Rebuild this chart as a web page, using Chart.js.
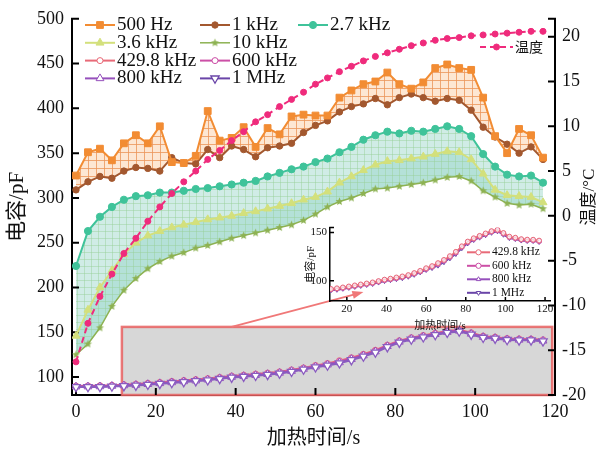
<!DOCTYPE html>
<html>
<head>
<meta charset="utf-8">
<script src="https://cdn.jsdelivr.net/npm/chart.js@4.4.1/dist/chart.umd.min.js"></script>
<style>
  body { margin: 0; background: #fff; }
  .chart_wrap { position: relative; width: 599px; height: 451px; }
  #chartInset { position: absolute; left: 300px; top: 218px; }
</style>
</head>
<body>
<div class="chart_wrap">
  <canvas id="chartMain" width="599" height="451"></canvas>
  <canvas id="chartInset" width="262" height="115"></canvas>
</div>
<script>
  // 데이터
  var times = [0, 3, 6, 9, 12, 15, 18, 21, 24, 27, 30, 33, 36, 39, 42, 45, 48, 51, 54, 57,
    60, 63, 66, 69, 72, 75, 78, 81, 84, 87, 90, 93, 96, 99, 102, 105, 108, 111, 114, 117];
  var cap500Hz = [325, 351, 355, 342, 361, 370, 361, 380, 340, 339, 347, 397, 364, 367, 379, 357, 378, 371, 391, 393,
    392, 392, 412, 420, 427, 430, 440, 427, 422, 429, 445, 449, 445, 443, 412, 369, 350, 377, 370, 345];
  var cap1kHz = [309, 318, 324, 322, 330, 334, 333, 330, 345, 339, 338, 354, 345, 358, 354, 346, 356, 358, 361, 373,
    381, 386, 396, 402, 405, 411, 404, 412, 416, 412, 408, 411, 409, 398, 379, 368, 360, 350, 357, 343];
  var cap2k7 = [224, 263, 279, 290, 298, 302, 303, 306, 306, 308, 310, 311, 313, 315, 317, 319, 324, 328, 332, 335,
    340, 344, 351, 357, 365, 370, 374, 372, 375, 374, 377, 380, 377, 369, 349, 335, 326, 324, 325, 317];
  var cap3k6 = [146, 175, 200, 219, 237, 250, 258, 263, 267, 270, 273, 276, 278, 280, 283, 285, 288, 291, 294, 298,
    301, 307, 317, 324, 331, 337, 341, 342, 344, 346, 349, 352, 351, 343, 327, 309, 303, 302, 301, 295];
  var cap10k = [125, 137, 155, 179, 197, 210, 221, 229, 235, 239, 244, 247, 251, 255, 258, 261, 264, 267, 270, 275,
    282, 290, 296, 300, 305, 310, 311, 313, 315, 317, 320, 323, 324, 319, 308, 301, 294, 292, 293, 288];
  var cap429k = [90, 90.2, 90.4, 90.9, 91.5, 92.2, 93.1, 94.1, 95.2, 96.2, 97.2, 98.3, 99.7, 101.2, 102.2, 103.4, 104.5, 105.9, 108, 110.3,
    113, 115.2, 118.3, 121.6, 125.5, 130, 135.7, 140.6, 144, 146.5, 149, 151.4, 152.8, 149.5, 145.7, 144.6, 143.1, 142.6, 142.5, 141.6];
  var cap600k = [89.6, 89.8, 90, 90.4, 91, 91.6, 92.5, 93.5, 94.6, 95.6, 96.6, 97.6, 99.1, 100.6, 101.5, 102.7, 103.8, 105.2, 107.3, 109.6,
    112.2, 114.4, 117.4, 120.8, 124.7, 129.2, 135, 140, 143.3, 145.8, 148.4, 150.8, 152.1, 148.8, 145.1, 144, 142.5, 142, 141.9, 141];
  var cap800k = [89.3, 89.4, 89.5, 90, 90.6, 91.1, 92, 93, 94, 95.1, 96, 97.1, 98.6, 100, 101, 102.1, 103.2, 104.6, 106.7, 109,
    111.6, 113.8, 116.3, 120, 124, 128.5, 134.4, 139.3, 142.7, 145.2, 147.8, 150.2, 151.6, 148.2, 144.6, 143.5, 142, 141.5, 141.4, 140.5];
  var cap1M = [89, 89, 89, 89.5, 90, 90.5, 91.5, 92.5, 93.5, 94.5, 95.5, 96.5, 98, 99.5, 100.5, 101.5, 102.5, 104, 106, 108.5,
    111, 113, 115.5, 119, 123, 127.5, 133.5, 138.5, 142, 144.5, 147, 149.5, 151, 147.5, 144, 143, 141.5, 141, 141, 140];
  var tempC = [-16.3, -12.0, -9.0, -6.5, -4.2, -2.5, -0.6, 1.0, 2.5, 3.8, 5.0, 6.3, 7.3, 8.4, 9.4, 10.5, 11.3, 12.2, 13.0, 13.8,
    14.7, 15.4, 16.1, 16.7, 17.3, 17.8, 18.2, 18.6, 19.0, 19.3, 19.6, 19.8, 19.9, 20.1, 20.2, 20.3, 20.4, 20.5, 20.6, 20.6];

  var xTicks = [0, 20, 40, 60, 80, 100, 120];
  var capTicks = [100, 150, 200, 250, 300, 350, 400, 450, 500];
  var tempTicks = [-20, -15, -10, -5, 0, 5, 10, 15, 20];
  var insetXTicks = [20, 40, 60, 80, 100, 120];
  var insetCapTicks = [100, 150];

  // 확대 영역 표시 (축 값 기준)
  var zoomBox = { x0: 11.5, x1: 119.3, y0: 80, y1: 156 };
  var arrowFrom = [39, 156];
  var arrowTo = [72, 195];

  var serif = "'Liberation Serif', 'Noto Sans CJK SC', serif";
  Chart.defaults.font.family = serif;
  Chart.defaults.color = '#111';

  var mainCtx = document.getElementById('chartMain').getContext('2d');

  // 패턴 / 마커
  function makeHatch(base, line, step) {
    var c = document.createElement('canvas');
    c.width = step; c.height = step;
    var g = c.getContext('2d');
    g.fillStyle = base; g.fillRect(0, 0, step, step);
    g.fillStyle = line; g.fillRect(0, 0, step, 1); g.fillRect(0, 0, 1, step);
    return mainCtx.createPattern(c, 'repeat');
  }
  function starImg(color, r) {
    var s = Math.ceil(r * 2 + 2);
    var c = document.createElement('canvas');
    c.width = s; c.height = s;
    var g = c.getContext('2d');
    g.fillStyle = color;
    g.beginPath();
    for (var k = 0; k < 10; k++) {
      var rad = k % 2 ? r * 0.45 : r;
      var a = -Math.PI / 2 + k * Math.PI / 5;
      g.lineTo(s / 2 + rad * Math.cos(a), s / 2 + rad * Math.sin(a));
    }
    g.closePath(); g.fill();
    return c;
  }
  function pts(vals) {
    return times.map(function (t, i) { return { x: t, y: vals[i] }; });
  }
  function series(label, vals, color, style, extra) {
    return Object.assign({
      label: label, data: pts(vals), borderColor: color, backgroundColor: color,
      pointBackgroundColor: color, pointBorderColor: color, borderWidth: 2,
      pointStyle: style, pointRadius: 3.5, pointBorderWidth: 1, fill: false, tension: 0
    }, extra || {});
  }

  var cOrange = '#f28c33', cBrown = '#a3582f', cGreen = '#3fc39a', cYellow = '#d3e07c', cOlive = '#8db252';
  var cPink = '#ef2b7c', c429 = '#e86a78', c600 = '#cc4fa6', c800 = '#9650bc', c1M = '#6a45a8';

  var hatchOrange = makeHatch('#fde7d3', 'rgba(235,150,90,0.8)', 8);
  var hatchGreen = makeHatch('rgba(150,212,200,0.45)', 'rgba(150,208,150,0.45)', 7);

  var mainDatasets = [
    series('500 Hz', cap500Hz, cOrange, 'rect', { pointRadius: 4.8 }),
    series('1 kHz', cap1kHz, cBrown, 'circle', { pointRadius: 3.2, fill: '-1', backgroundColor: hatchOrange }),
    series('2.7 kHz', cap2k7, cGreen, 'circle', { pointRadius: 3.6, fill: '+2', backgroundColor: hatchGreen }),
    series('3.6 kHz', cap3k6, cYellow, 'triangle', { pointRadius: 4.6, fill: '+1', backgroundColor: 'rgba(90,188,170,0.3)' }),
    series('10 kHz', cap10k, cOlive, starImg(cOlive, 4.2), { borderWidth: 1.5 }),
    series('429.8 kHz', cap429k, c429, 'circle', { pointBackgroundColor: '#fff', pointRadius: 3, order: 4 }),
    series('600 kHz', cap600k, c600, 'circle', { pointBackgroundColor: '#fff', pointRadius: 3, order: 3 }),
    series('800 kHz', cap800k, c800, 'triangle', { pointBackgroundColor: '#fff', pointRadius: 4.5, order: 2 }),
    series('1 MHz', cap1M, '#8a5cc0', 'triangle', { pointBackgroundColor: '#fff', pointRadius: 4.8, pointRotation: 180, pointBorderWidth: 1.3, order: 1 }),
    series('温度', tempC, cPink, 'circle', { pointRadius: 3, borderDash: [6, 4], yAxisID: 'y2', order: -1 })
  ];
  // 범례 색상 (1 MHz)
  var legendColor = { 8: c1M };

  // 함수
  function drawInnerTicks(chart, len, lw) {
    var ctx = chart.ctx, a = chart.chartArea;
    ctx.save();
    ctx.strokeStyle = '#000'; ctx.lineWidth = lw;
    ctx.beginPath();
    Object.keys(chart.scales).forEach(function (k) {
      var s = chart.scales[k];
      s.ticks.forEach(function (t) {
        var p = s.getPixelForValue(t.value);
        if (s.isHorizontal()) { ctx.moveTo(p, a.bottom); ctx.lineTo(p, a.bottom - len); }
        else if (s.position === 'left') { ctx.moveTo(a.left, p); ctx.lineTo(a.left + len, p); }
        else { ctx.moveTo(a.right, p); ctx.lineTo(a.right - len, p); }
      });
      if (!s.isHorizontal()) {
        var e = s.position === 'left' ? a.left : a.right;
        var d = s.position === 'left' ? 1 : -1;
        ctx.moveTo(e - d * lw / 2, a.top); ctx.lineTo(e + d * len, a.top);
      }
    });
    ctx.stroke();
    ctx.restore();
  }
  function legendMarker(ctx, ds, color, x, y) {
    var style = ds.pointStyle;
    if (style instanceof HTMLCanvasElement) {
      ctx.drawImage(style, x - style.width / 2, y - style.height / 2);
      return;
    }
    var r = ds.pointRadius;
    ctx.beginPath();
    if (style === 'rect') {
      var s = r * Math.SQRT1_2;
      ctx.rect(x - s, y - s, 2 * s, 2 * s);
    } else if (style === 'triangle') {
      var d = ds.pointRotation === 180 ? -1 : 1;
      ctx.moveTo(x, y - d * r);
      ctx.lineTo(x + r * 0.866, y + d * r * 0.5);
      ctx.lineTo(x - r * 0.866, y + d * r * 0.5);
      ctx.closePath();
    } else {
      ctx.arc(x, y, r, 0, Math.PI * 2);
    }
    ctx.fillStyle = ds.pointBackgroundColor === '#fff' ? '#fff' : color;
    ctx.fill();
    ctx.lineWidth = ds.pointBorderWidth;
    ctx.strokeStyle = color;
    ctx.stroke();
  }
  function legendItem(ctx, ds, color, x, y, len, font) {
    ctx.save();
    ctx.strokeStyle = color; ctx.lineWidth = ds.borderWidth;
    ctx.setLineDash(ds.borderDash || []);
    ctx.beginPath(); ctx.moveTo(x, y); ctx.lineTo(x + len, y); ctx.stroke();
    ctx.setLineDash([]);
    legendMarker(ctx, ds, color, x + len / 2, y);
    ctx.fillStyle = '#111'; ctx.font = font;
    ctx.textBaseline = 'middle'; ctx.textAlign = 'left';
    ctx.fillText(ds.label, x + len + 2, y);
    ctx.restore();
  }

  var mainDecor = {
    id: 'mainDecor',
    beforeDatasetsDraw: function (chart) {
      var ctx = chart.ctx, sx = chart.scales.x, sy = chart.scales.y;
      var bx0 = sx.getPixelForValue(zoomBox.x0), bx1 = sx.getPixelForValue(zoomBox.x1);
      var by0 = sy.getPixelForValue(zoomBox.y1), by1 = sy.getPixelForValue(zoomBox.y0);
      ctx.save();
      ctx.fillStyle = '#d7d7d7';
      ctx.fillRect(bx0, by0, bx1 - bx0, by1 - by0);
      ctx.strokeStyle = 'rgba(232,96,96,0.85)'; ctx.lineWidth = 2.5;
      ctx.strokeRect(bx0, by0, bx1 - bx0, by1 - by0);
      // 화살표
      var ax0 = sx.getPixelForValue(arrowFrom[0]), ay0 = sy.getPixelForValue(arrowFrom[1]);
      var ax1 = sx.getPixelForValue(arrowTo[0]), ay1 = sy.getPixelForValue(arrowTo[1]);
      var ang = Math.atan2(ay1 - ay0, ax1 - ax0);
      var cs = Math.cos(ang), sn = Math.sin(ang);
      ctx.strokeStyle = '#f07878'; ctx.fillStyle = '#f07878'; ctx.lineWidth = 1.8;
      ctx.beginPath(); ctx.moveTo(ax0, ay0); ctx.lineTo(ax1 - 6 * cs, ay1 - 6 * sn); ctx.stroke();
      ctx.beginPath();
      ctx.moveTo(ax1, ay1);
      ctx.lineTo(ax1 - 11 * cs + 4 * sn, ay1 - 11 * sn - 4 * cs);
      ctx.lineTo(ax1 - 11 * cs - 4 * sn, ay1 - 11 * sn + 4 * cs);
      ctx.closePath(); ctx.fill();
      ctx.restore();
      drawInnerTicks(chart, 7, 2);
    },
    afterDraw: function (chart) {
      var ctx = chart.ctx, ds = chart.data.datasets;
      var rows = [[0, 1, 2], [3, 4], [5, 6], [7, 8]];
      var colX = [85, 200, 298];
      rows.forEach(function (row, r) {
        row.forEach(function (idx, c) {
          legendItem(ctx, ds[idx], legendColor[idx] || ds[idx].borderColor, colX[c], 25 + r * 17.8, 30, '19px ' + serif);
        });
      });
      legendItem(ctx, ds[9], cPink, 480, 47, 33, "14px 'Noto Sans CJK SC'");
      // 오른쪽 축 제목 (아래에서 위로)
      ctx.save();
      ctx.translate(590, 197);
      ctx.rotate(-Math.PI / 2);
      ctx.font = '17px ' + serif;
      ctx.fillStyle = '#111';
      ctx.textAlign = 'center'; ctx.textBaseline = 'middle';
      ctx.fillText('温度/°C', 0, 0);
      ctx.restore();
    }
  };

  function linearScale(min, max, tickVals, fontSize, pad, extra) {
    return Object.assign({
      type: 'linear', min: min, max: max,
      afterBuildTicks: function (s) { s.ticks = tickVals.map(function (v) { return { value: v }; }); },
      grid: { display: false, drawTicks: false },
      border: { display: true, color: '#000', width: 2 },
      ticks: { color: '#111', font: { size: fontSize }, padding: pad, maxRotation: 0, autoSkip: false }
    }, extra);
  }

  // 차트
  new Chart(mainCtx, {
    type: 'line',
    data: { datasets: mainDatasets },
    options: {
      responsive: false, animation: false, devicePixelRatio: 1, events: [],
      layout: { padding: { top: 13, left: 0, right: 0, bottom: 0 } },
      plugins: {
        legend: { display: false }, tooltip: { enabled: false },
        filler: { drawTime: 'beforeDatasetsDraw', propagate: false }
      },
      scales: {
        x: linearScale(-1, 120, xTicks, 18, 6, {
          position: 'bottom',
          afterFit: function (s) { s.height = 56; },
          title: { display: true, text: '加热时间/s', color: '#111', font: { size: 20 }, padding: { top: 3, bottom: 0 } }
        }),
        y: linearScale(80, 500, capTicks, 18, 8, {
          position: 'left',
          afterFit: function (s) { s.width = 72; },
          title: { display: true, text: '电容/pF', color: '#111', font: { size: 21 }, padding: { top: 5, bottom: 0 } }
        }),
        y2: linearScale(-20, 22, tempTicks, 18, 7, {
          position: 'right',
          afterFit: function (s) { s.width = 44; }
        })
      }
    },
    plugins: [mainDecor]
  });

  // 확대 차트 (inset)
  function insetSeries(label, vals, color, style, rot) {
    return series(label, vals, color, style, {
      borderWidth: 1.5, pointRadius: 2.4, pointBorderWidth: 1, pointRotation: rot || 0,
      pointBackgroundColor: 'rgba(255,255,255,0.7)'
    });
  }
  var insetDatasets = [
    insetSeries('429.8 kHz', cap429k, c429, 'circle'),
    insetSeries('600 kHz', cap600k, c600, 'circle'),
    insetSeries('800 kHz', cap800k, c800, 'triangle'),
    insetSeries('1 MHz', cap1M, c1M, 'triangle', 180)
  ];
  var insetDecor = {
    id: 'insetDecor',
    beforeDatasetsDraw: function (chart) { drawInnerTicks(chart, 4, 1.5); },
    afterDraw: function (chart) {
      var ctx = chart.ctx, ds = chart.data.datasets;
      ds.forEach(function (d, i) {
        var item = Object.assign({}, d, { pointRadius: 2.6, pointBackgroundColor: '#fff', borderWidth: 2 });
        legendItem(ctx, item, d.borderColor, 167, 34.3 + i * 13.5, 23, '11.5px ' + serif);
      });
    }
  };
  new Chart(document.getElementById('chartInset').getContext('2d'), {
    type: 'line',
    data: { datasets: insetDatasets },
    options: {
      responsive: false, animation: false, devicePixelRatio: 1, events: [],
      layout: { padding: { top: 7, right: 12, left: 0, bottom: 0 } },
      plugins: { legend: { display: false }, tooltip: { enabled: false } },
      scales: {
        x: linearScale(11.5, 122.5, insetXTicks, 11, 2, {
          position: 'bottom',
          border: { display: true, color: '#000', width: 1.5 },
          afterFit: function (s) { s.height = 32; },
          title: { display: true, text: '加热时间/s', color: '#111', font: { size: 11 }, padding: { top: 4, bottom: 0 } }
        }),
        y: linearScale(79, 155, insetCapTicks, 11, 3, {
          position: 'left',
          border: { display: true, color: '#000', width: 1.5 },
          afterFit: function (s) { s.width = 30; },
          title: { display: true, text: '电容/pF', color: '#111', font: { size: 11 }, padding: { top: 5, bottom: 0 } }
        })
      }
    },
    plugins: [insetDecor]
  });
</script>
</body>
</html>
